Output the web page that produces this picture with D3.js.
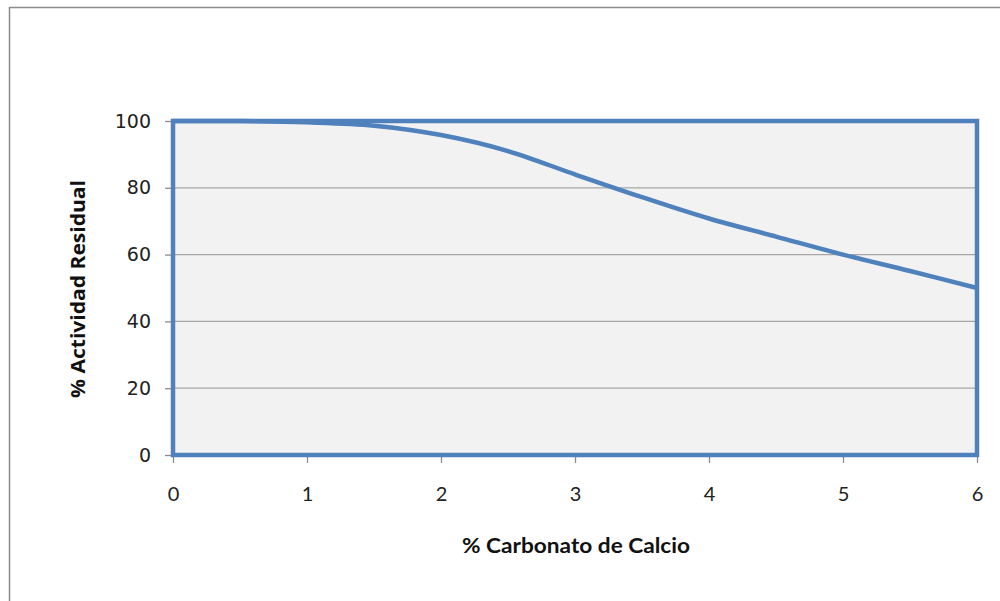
<!DOCTYPE html>
<html>
<head>
<meta charset="utf-8">
<script src="https://cdn.jsdelivr.net/npm/d3@7"></script>
<style>
  html, body { margin: 0; padding: 0; background: #ffffff; }
  svg { display: block; }
</style>
</head>
<body>
<svg id="chart" width="1000" height="601"></svg>
<script>
// Residual activity (%) as a function of calcium carbonate content (%)
const carbonato = [0, 0.5, 1, 1.5, 2, 2.5, 3, 3.5, 4, 4.5, 5, 5.5, 6];
const actividad = [100, 100, 99.6, 98.6, 95.8, 91, 84, 77.2, 70.8, 65.4, 60, 55.1, 50];
const xTicks = [0, 1, 2, 3, 4, 5, 6];
const yTicks = [0, 20, 40, 60, 80, 100];
const xTitle = "% Carbonato de Calcio";
const yTitle = "%  Actividad Residual";

const svg = d3.select("#chart");
const blue = "#4f81bd";

// outer chart frame (left and top edges visible)
svg.append("path")
  .attr("d", "M9.5,601 L9.5,7.5 L1000,7.5")
  .attr("fill", "none")
  .attr("stroke", "#8c8c8c")
  .attr("stroke-width", 1.5);

const plot = { left: 173, right: 977, top: 121, bottom: 455 };

const x = d3.scaleLinear().domain([0, 6]).range([plot.left, plot.right]);
const y = d3.scaleLinear().domain([0, 100]).range([plot.bottom, plot.top]);

// plot background
svg.append("rect")
  .attr("x", plot.left).attr("y", plot.top)
  .attr("width", plot.right - plot.left)
  .attr("height", plot.bottom - plot.top)
  .attr("fill", "#f2f2f2");

// horizontal gridlines
svg.append("g")
  .selectAll("line")
  .data(yTicks.filter(d => d > 0 && d < 100))
  .join("line")
  .attr("x1", plot.left).attr("x2", plot.right)
  .attr("y1", d => y(d)).attr("y2", d => y(d))
  .attr("stroke", "#a6a6a6")
  .attr("stroke-width", 1.3);

// y axis: tick marks and labels
const yAxis = d3.axisLeft(y).tickValues(yTicks).tickSize(8).tickPadding(14);
const gy = svg.append("g")
  .attr("transform", `translate(${plot.left},0)`)
  .call(yAxis);
gy.select(".domain").remove();
gy.selectAll(".tick line").attr("stroke", "#8c8c8c").attr("stroke-width", 1.3);
gy.selectAll(".tick text")
  .attr("font-family", "'DejaVu Sans', Verdana, sans-serif")
  .attr("font-size", 19)
  .attr("fill", "#222");

// x axis: tick marks and labels
const xAxis = d3.axisBottom(x).tickValues(xTicks).tickSize(8).tickPadding(24)
  .tickFormat(d3.format("d"));
const gx = svg.append("g")
  .attr("transform", `translate(0,${plot.bottom})`)
  .call(xAxis);
gx.select(".domain").remove();
gx.selectAll(".tick line").attr("stroke", "#8c8c8c").attr("stroke-width", 1.3);
gx.selectAll(".tick text")
  .attr("font-family", "'Liberation Sans Narrow', 'Arial Narrow', Lato, sans-serif")
  .attr("font-size", 20)
  .attr("fill", "#222");

// data line
const line = d3.line()
  .x((d, i) => x(carbonato[i]))
  .y(d => y(d))
  .curve(d3.curveCatmullRom.alpha(0.5));

svg.append("path")
  .datum(actividad)
  .attr("d", line)
  .attr("fill", "none")
  .attr("stroke", blue)
  .attr("stroke-width", 4.5)
  .attr("stroke-linejoin", "round");

// plot area border
svg.append("rect")
  .attr("x", plot.left).attr("y", plot.top)
  .attr("width", plot.right - plot.left)
  .attr("height", plot.bottom - plot.top)
  .attr("fill", "none")
  .attr("stroke", blue)
  .attr("stroke-width", 4.5);

// axis titles
svg.append("text")
  .attr("x", 576).attr("y", 553)
  .attr("text-anchor", "middle")
  .attr("font-family", "'Liberation Sans Narrow', 'Arial Narrow', Lato, sans-serif")
  .attr("font-weight", "bold")
  .attr("font-size", 21)
  .attr("textLength", 228)
  .attr("lengthAdjust", "spacingAndGlyphs")
  .attr("fill", "#111")
  .text(xTitle);

svg.append("text")
  .attr("transform", "translate(85,289) rotate(-90)")
  .attr("text-anchor", "middle")
  .attr("font-family", "'Open Sans', 'Liberation Sans', sans-serif")
  .attr("font-weight", "bold")
  .attr("font-size", 19)
  .attr("textLength", 218)
  .attr("lengthAdjust", "spacingAndGlyphs")
  .attr("fill", "#111")
  .text(yTitle);
</script>
</body>
</html>
